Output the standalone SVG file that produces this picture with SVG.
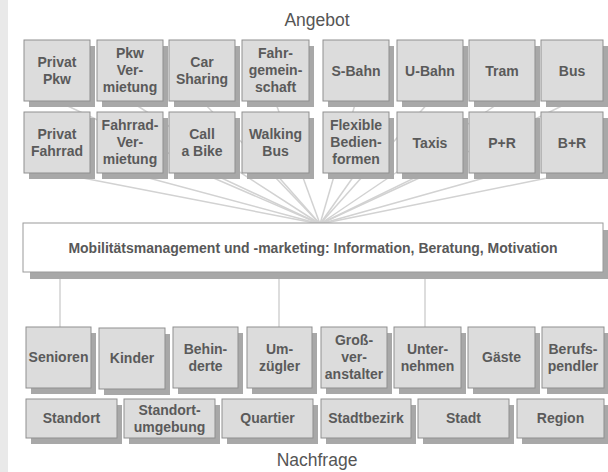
<svg xmlns="http://www.w3.org/2000/svg" width="608" height="472" viewBox="0 0 608 472">
<defs>
<style>
.bg{fill:#ffffff}
.strip{fill:#e9e9e9}
.sh{fill:#a8a8a8}
.bx{fill:#dcdcdc;stroke:#8f8f8f;stroke-width:1}
.mb{fill:#ffffff;stroke:#9a9a9a;stroke-width:1}
.t{font-family:"Liberation Sans",Arial,sans-serif;font-weight:bold;font-size:14px;fill:#5a5a5a;text-anchor:middle}
.mt{font-family:"Liberation Sans",Arial,sans-serif;font-weight:bold;font-size:14px;fill:#585858;text-anchor:middle}
.title{font-family:"Liberation Sans",Arial,sans-serif;font-size:17.5px;fill:#555555;text-anchor:middle}
.ln{stroke:#d2d2d2;stroke-width:1.5;fill:none}
</style>
</defs>
<rect class="bg" x="0" y="0" width="608" height="472"/>
<rect class="strip" x="0" y="0" width="8" height="472"/>

<text class="title" x="317" y="26">Angebot</text>
<text class="title" x="317" y="466">Nachfrage</text>

<g id="connectors">
<line class="ln" x1="57" y1="101" x2="320" y2="224"/>
<line class="ln" x1="130" y1="101" x2="320" y2="224"/>
<line class="ln" x1="202" y1="101" x2="320" y2="224"/>
<line class="ln" x1="275" y1="101" x2="320" y2="224"/>
<line class="ln" x1="356" y1="101" x2="320" y2="224"/>
<line class="ln" x1="430" y1="101" x2="320" y2="224"/>
<line class="ln" x1="502" y1="101" x2="320" y2="224"/>
<line class="ln" x1="572" y1="101" x2="320" y2="224"/>
<line class="ln" x1="57" y1="173" x2="320" y2="224"/>
<line class="ln" x1="130" y1="173" x2="320" y2="224"/>
<line class="ln" x1="202" y1="173" x2="320" y2="224"/>
<line class="ln" x1="275" y1="173" x2="320" y2="224"/>
<line class="ln" x1="356" y1="173" x2="320" y2="224"/>
<line class="ln" x1="430" y1="173" x2="320" y2="224"/>
<line class="ln" x1="502" y1="173" x2="320" y2="224"/>
<line class="ln" x1="572" y1="173" x2="320" y2="224"/>
<line class="ln" x1="60" y1="272" x2="60" y2="327"/>
<line class="ln" x1="279" y1="272" x2="279" y2="327"/>
<line class="ln" x1="425" y1="272" x2="425" y2="327"/>
</g>

<!-- Top row -->
<g id="privat-pkw"><rect class="sh" x="29" y="46" width="66" height="61"/><rect class="bx" x="24" y="40" width="66" height="61"/><text class="t" x="57" y="67">Privat</text><text class="t" x="57" y="84">Pkw</text></g>
<g id="pkw-vermietung"><rect class="sh" x="102" y="46" width="66" height="61"/><rect class="bx" x="97" y="40" width="66" height="61"/><text class="t" x="130" y="58">Pkw</text><text class="t" x="130" y="75">Ver-</text><text class="t" x="130" y="92">mietung</text></g>
<g id="car-sharing"><rect class="sh" x="174" y="46" width="66" height="61"/><rect class="bx" x="169" y="40" width="66" height="61"/><text class="t" x="202" y="67">Car</text><text class="t" x="202" y="84">Sharing</text></g>
<g id="fahrgemeinschaft"><rect class="sh" x="247" y="46" width="67" height="61"/><rect class="bx" x="242" y="40" width="67" height="61"/><text class="t" x="275.5" y="58">Fahr-</text><text class="t" x="275.5" y="75">gemein-</text><text class="t" x="275.5" y="92">schaft</text></g>
<g id="s-bahn"><rect class="sh" x="328" y="46" width="66" height="61"/><rect class="bx" x="323" y="40" width="66" height="61"/><text class="t" x="356" y="76">S-Bahn</text></g>
<g id="u-bahn"><rect class="sh" x="402" y="46" width="66" height="61"/><rect class="bx" x="397" y="40" width="66" height="61"/><text class="t" x="430" y="76">U-Bahn</text></g>
<g id="tram"><rect class="sh" x="474" y="46" width="66" height="61"/><rect class="bx" x="469" y="40" width="66" height="61"/><text class="t" x="502" y="76">Tram</text></g>
<g id="bus"><rect class="sh" x="546" y="46" width="62" height="61"/><rect class="bx" x="541" y="40" width="62" height="61"/><text class="t" x="572" y="76">Bus</text></g>

<!-- Second row -->
<g id="privat-fahrrad"><rect class="sh" x="29" y="118" width="66" height="61"/><rect class="bx" x="24" y="112" width="66" height="61"/><text class="t" x="57" y="139">Privat</text><text class="t" x="57" y="156">Fahrrad</text></g>
<g id="fahrrad-vermietung"><rect class="sh" x="102" y="118" width="66" height="61"/><rect class="bx" x="97" y="112" width="66" height="61"/><text class="t" x="130" y="130">Fahrrad-</text><text class="t" x="130" y="147">Ver-</text><text class="t" x="130" y="164">mietung</text></g>
<g id="call-a-bike"><rect class="sh" x="174" y="118" width="66" height="61"/><rect class="bx" x="169" y="112" width="66" height="61"/><text class="t" x="202" y="139">Call</text><text class="t" x="202" y="156">a Bike</text></g>
<g id="walking-bus"><rect class="sh" x="247" y="118" width="67" height="61"/><rect class="bx" x="242" y="112" width="67" height="61"/><text class="t" x="275.5" y="139">Walking</text><text class="t" x="275.5" y="156">Bus</text></g>
<g id="flexible-bedienformen"><rect class="sh" x="328" y="118" width="66" height="61"/><rect class="bx" x="323" y="112" width="66" height="61"/><text class="t" x="356" y="130">Flexible</text><text class="t" x="356" y="147">Bedien-</text><text class="t" x="356" y="164">formen</text></g>
<g id="taxis"><rect class="sh" x="402" y="118" width="66" height="61"/><rect class="bx" x="397" y="112" width="66" height="61"/><text class="t" x="430" y="148">Taxis</text></g>
<g id="p-r"><rect class="sh" x="474" y="118" width="66" height="61"/><rect class="bx" x="469" y="112" width="66" height="61"/><text class="t" x="502" y="148">P+R</text></g>
<g id="b-r"><rect class="sh" x="546" y="118" width="62" height="61"/><rect class="bx" x="541" y="112" width="62" height="61"/><text class="t" x="572" y="148">B+R</text></g>

<!-- Mobility management -->
<g id="mobilitaetsmanagement"><rect class="sh" x="30" y="230" width="578" height="49"/><rect class="mb" x="23" y="223" width="580" height="49"/><text class="mt" x="313" y="253">Mobilitätsmanagement und -marketing: Information, Beratung, Motivation</text></g>

<!-- Nachfrage row 1 -->
<g id="senioren"><rect class="sh" x="31" y="333" width="65" height="61"/><rect class="bx" x="26" y="327" width="65" height="61"/><text class="t" x="58.5" y="362">Senioren</text></g>
<g id="kinder"><rect class="sh" x="104" y="334" width="66" height="61"/><rect class="bx" x="99" y="328" width="66" height="61"/><text class="t" x="132" y="363">Kinder</text></g>
<g id="behinderte"><rect class="sh" x="178" y="333" width="65" height="61"/><rect class="bx" x="173" y="327" width="65" height="61"/><text class="t" x="205.5" y="354">Behin-</text><text class="t" x="205.5" y="371">derte</text></g>
<g id="umzuegler"><rect class="sh" x="252" y="333" width="65" height="61"/><rect class="bx" x="247" y="327" width="65" height="61"/><text class="t" x="279.5" y="354">Um-</text><text class="t" x="279.5" y="371">zügler</text></g>
<g id="grossveranstalter"><rect class="sh" x="326" y="333" width="66" height="61"/><rect class="bx" x="321" y="327" width="66" height="61"/><text class="t" x="354" y="345">Groß-</text><text class="t" x="354" y="362">ver-</text><text class="t" x="354" y="379">anstalter</text></g>
<g id="unternehmen"><rect class="sh" x="399" y="333" width="67" height="61"/><rect class="bx" x="394" y="327" width="67" height="61"/><text class="t" x="427.5" y="354">Unter-</text><text class="t" x="427.5" y="371">nehmen</text></g>
<g id="gaeste"><rect class="sh" x="473" y="333" width="67" height="61"/><rect class="bx" x="468" y="327" width="67" height="61"/><text class="t" x="501.5" y="362">Gäste</text></g>
<g id="berufspendler"><rect class="sh" x="547" y="333" width="61" height="61"/><rect class="bx" x="542" y="327" width="62" height="61"/><text class="t" x="573" y="354">Berufs-</text><text class="t" x="573" y="371">pendler</text></g>

<!-- Nachfrage row 2 -->
<g id="standort"><rect class="sh" x="31" y="405" width="91" height="39"/><rect class="bx" x="26" y="399" width="91" height="39"/><text class="t" x="71.5" y="423">Standort</text></g>
<g id="standortumgebung"><rect class="sh" x="129" y="405" width="91" height="39"/><rect class="bx" x="124" y="399" width="91" height="39"/><text class="t" x="169.5" y="415">Standort-</text><text class="t" x="169.5" y="432">umgebung</text></g>
<g id="quartier"><rect class="sh" x="227" y="405" width="91" height="39"/><rect class="bx" x="222" y="399" width="91" height="39"/><text class="t" x="267.5" y="423">Quartier</text></g>
<g id="stadtbezirk"><rect class="sh" x="326" y="405" width="90" height="39"/><rect class="bx" x="321" y="399" width="90" height="39"/><text class="t" x="366" y="423">Stadtbezirk</text></g>
<g id="stadt"><rect class="sh" x="423" y="405" width="91" height="39"/><rect class="bx" x="418" y="399" width="91" height="39"/><text class="t" x="463.5" y="423">Stadt</text></g>
<g id="region"><rect class="sh" x="522" y="405" width="86" height="39"/><rect class="bx" x="517" y="399" width="87" height="39"/><text class="t" x="560.5" y="423">Region</text></g>
</svg>
